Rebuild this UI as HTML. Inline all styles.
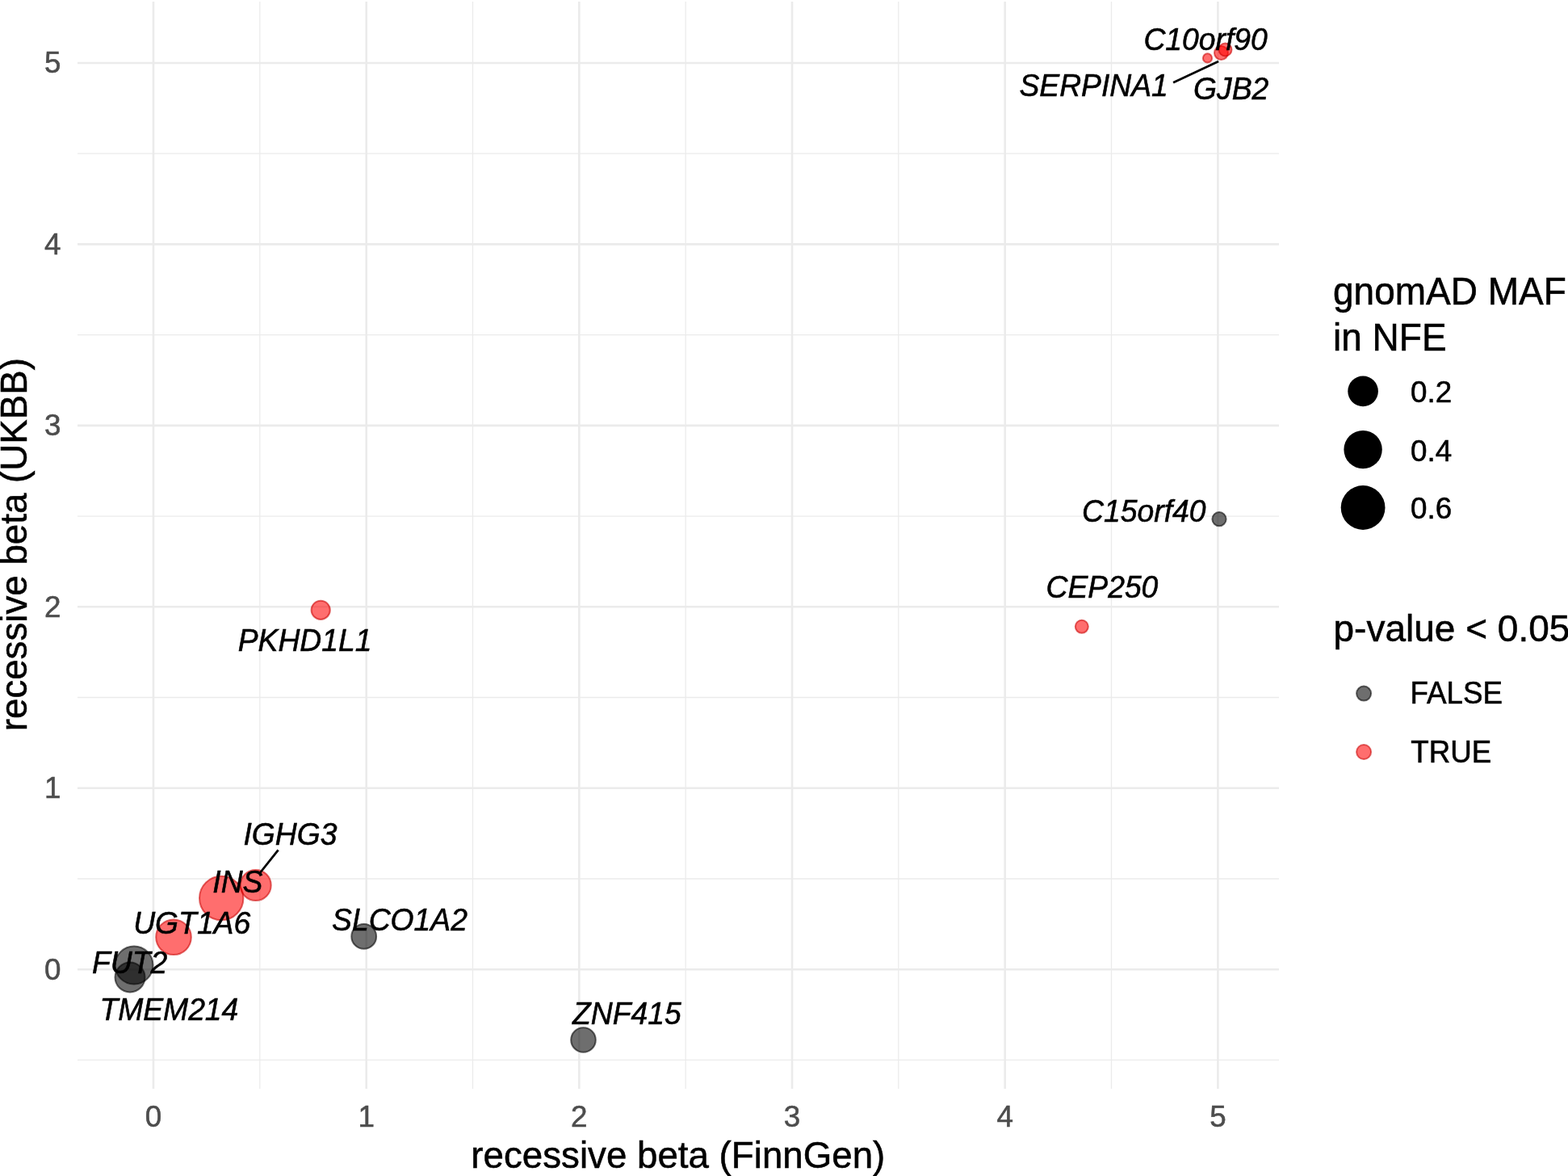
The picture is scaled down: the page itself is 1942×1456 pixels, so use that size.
<!DOCTYPE html>
<html><head><meta charset="utf-8"><title>recessive beta FinnGen vs UKBB</title>
<style>
html,body{margin:0;padding:0;background:#fff;width:1942px;height:1456px;overflow:hidden;}
svg{display:block;}
text{font-family:"Liberation Sans",Arial,Helvetica,sans-serif;}
.lab{font-style:italic;font-size:37.3px;fill:#000;stroke:#000;stroke-width:0.55px;}
.tick{font-size:36.8px;fill:#4D4D4D;stroke:#4D4D4D;stroke-width:0.55px;}
.title{font-size:46px;fill:#000;stroke:#000;stroke-width:0.55px;}
.axt{font-size:45.7px;}
.leg{font-size:36.8px;fill:#000;stroke:#000;stroke-width:0.55px;}
</style></head>
<body>
<svg width="1942" height="1456" viewBox="0 0 1942 1456">
<rect width="1942" height="1456" fill="#fff"/>
<line x1="321.8" y1="2" x2="321.8" y2="1348" stroke="#EBEBEB" stroke-width="1.3"/>
<line x1="585.5" y1="2" x2="585.5" y2="1348" stroke="#EBEBEB" stroke-width="1.3"/>
<line x1="849.2" y1="2" x2="849.2" y2="1348" stroke="#EBEBEB" stroke-width="1.3"/>
<line x1="1112.8" y1="2" x2="1112.8" y2="1348" stroke="#EBEBEB" stroke-width="1.3"/>
<line x1="1376.5" y1="2" x2="1376.5" y2="1348" stroke="#EBEBEB" stroke-width="1.3"/>
<line x1="96" y1="1312.4" x2="1584" y2="1312.4" stroke="#EBEBEB" stroke-width="1.3"/>
<line x1="96" y1="1088.0" x2="1584" y2="1088.0" stroke="#EBEBEB" stroke-width="1.3"/>
<line x1="96" y1="863.5" x2="1584" y2="863.5" stroke="#EBEBEB" stroke-width="1.3"/>
<line x1="96" y1="639.1" x2="1584" y2="639.1" stroke="#EBEBEB" stroke-width="1.3"/>
<line x1="96" y1="414.6" x2="1584" y2="414.6" stroke="#EBEBEB" stroke-width="1.3"/>
<line x1="96" y1="190.2" x2="1584" y2="190.2" stroke="#EBEBEB" stroke-width="1.3"/>
<line x1="190.0" y1="2" x2="190.0" y2="1348" stroke="#EBEBEB" stroke-width="2.6"/>
<line x1="453.7" y1="2" x2="453.7" y2="1348" stroke="#EBEBEB" stroke-width="2.6"/>
<line x1="717.3" y1="2" x2="717.3" y2="1348" stroke="#EBEBEB" stroke-width="2.6"/>
<line x1="981.0" y1="2" x2="981.0" y2="1348" stroke="#EBEBEB" stroke-width="2.6"/>
<line x1="1244.7" y1="2" x2="1244.7" y2="1348" stroke="#EBEBEB" stroke-width="2.6"/>
<line x1="1508.4" y1="2" x2="1508.4" y2="1348" stroke="#EBEBEB" stroke-width="2.6"/>
<line x1="96" y1="1200.2" x2="1584" y2="1200.2" stroke="#EBEBEB" stroke-width="2.6"/>
<line x1="96" y1="975.8" x2="1584" y2="975.8" stroke="#EBEBEB" stroke-width="2.6"/>
<line x1="96" y1="751.3" x2="1584" y2="751.3" stroke="#EBEBEB" stroke-width="2.6"/>
<line x1="96" y1="526.9" x2="1584" y2="526.9" stroke="#EBEBEB" stroke-width="2.6"/>
<line x1="96" y1="302.4" x2="1584" y2="302.4" stroke="#EBEBEB" stroke-width="2.6"/>
<line x1="96" y1="78.0" x2="1584" y2="78.0" stroke="#EBEBEB" stroke-width="2.6"/>
<circle cx="722.5" cy="1287.5" r="15.30" fill="#000000" fill-opacity="0.57" stroke="#000000" stroke-opacity="0.57" stroke-width="2.0"/>
<circle cx="450.7" cy="1159.4" r="15.40" fill="#000000" fill-opacity="0.57" stroke="#000000" stroke-opacity="0.57" stroke-width="2.0"/>
<circle cx="166.0" cy="1195.0" r="23.50" fill="#000000" fill-opacity="0.57" stroke="#000000" stroke-opacity="0.57" stroke-width="2.0"/>
<circle cx="161.0" cy="1210.0" r="18.50" fill="#000000" fill-opacity="0.57" stroke="#000000" stroke-opacity="0.57" stroke-width="2.0"/>
<circle cx="215.0" cy="1160.3" r="21.80" fill="#FF0000" fill-opacity="0.57" stroke="#C80000" stroke-opacity="0.57" stroke-width="2.0"/>
<circle cx="274.2" cy="1112.0" r="27.20" fill="#FF0000" fill-opacity="0.57" stroke="#C80000" stroke-opacity="0.57" stroke-width="2.0"/>
<circle cx="316.7" cy="1096.0" r="19.00" fill="#FF0000" fill-opacity="0.57" stroke="#C80000" stroke-opacity="0.57" stroke-width="2.0"/>
<circle cx="397.2" cy="755.3" r="11.60" fill="#FF0000" fill-opacity="0.57" stroke="#C80000" stroke-opacity="0.57" stroke-width="2.0"/>
<circle cx="1339.8" cy="775.8" r="8.00" fill="#FF0000" fill-opacity="0.57" stroke="#C80000" stroke-opacity="0.57" stroke-width="2.0"/>
<circle cx="1510.0" cy="642.7" r="8.60" fill="#000000" fill-opacity="0.57" stroke="#000000" stroke-opacity="0.57" stroke-width="2.0"/>
<circle cx="1495.5" cy="71.9" r="5.60" fill="#FF0000" fill-opacity="0.57" stroke="#C80000" stroke-opacity="0.57" stroke-width="2.0"/>
<circle cx="1512.5" cy="65.5" r="8.50" fill="#FF0000" fill-opacity="0.57" stroke="#C80000" stroke-opacity="0.57" stroke-width="2.0"/>
<circle cx="1517.5" cy="61.5" r="8.00" fill="#FF0000" fill-opacity="0.57" stroke="#C80000" stroke-opacity="0.57" stroke-width="2.0"/>
<line x1="1453.1" y1="102.3" x2="1509.1" y2="76.0" stroke="#000" stroke-width="2.8"/>
<line x1="344.6" y1="1052.4" x2="321.0" y2="1082.0" stroke="#000" stroke-width="2.8"/>
<text transform="translate(1416.4,62.0) scale(1,1.045)" class="lab">C10orf90</text>
<text transform="translate(1262.4,118.9) scale(1,1.045)" class="lab">SERPINA1</text>
<text transform="translate(1478.0,123.3) scale(1,1.045)" class="lab">GJB2</text>
<text transform="translate(1340.1,646.0) scale(1,1.045)" class="lab">C15orf40</text>
<text transform="translate(1295.5,740.1) scale(1,1.045)" class="lab">CEP250</text>
<text transform="translate(294.7,806.0) scale(1,1.045)" class="lab">PKHD1L1</text>
<text transform="translate(301.5,1046.0) scale(1,1.045)" class="lab">IGHG3</text>
<text transform="translate(263.3,1104.7) scale(1,1.045)" class="lab">INS</text>
<text transform="translate(165.2,1155.6) scale(1,1.045)" class="lab">UGT1A6</text>
<text transform="translate(411.1,1152.2) scale(1,1.045)" class="lab">SLCO1A2</text>
<text transform="translate(114.1,1204.5) scale(1,1.045)" class="lab">FUT2</text>
<text transform="translate(123.4,1263.2) scale(1,1.045)" class="lab">TMEM214</text>
<text transform="translate(709.0,1267.5) scale(1,1.045)" class="lab">ZNF415</text>
<text transform="translate(190.0,1394.5) scale(1,1.02)" class="tick" text-anchor="middle">0</text>
<text transform="translate(453.7,1394.5) scale(1,1.02)" class="tick" text-anchor="middle">1</text>
<text transform="translate(717.3,1394.5) scale(1,1.02)" class="tick" text-anchor="middle">2</text>
<text transform="translate(981.0,1394.5) scale(1,1.02)" class="tick" text-anchor="middle">3</text>
<text transform="translate(1244.7,1394.5) scale(1,1.02)" class="tick" text-anchor="middle">4</text>
<text transform="translate(1508.4,1394.5) scale(1,1.02)" class="tick" text-anchor="middle">5</text>
<text transform="translate(75.4,1212.5) scale(1,1.02)" class="tick" text-anchor="end">0</text>
<text transform="translate(75.4,988.0) scale(1,1.02)" class="tick" text-anchor="end">1</text>
<text transform="translate(75.4,763.6) scale(1,1.02)" class="tick" text-anchor="end">2</text>
<text transform="translate(75.4,539.2) scale(1,1.02)" class="tick" text-anchor="end">3</text>
<text transform="translate(75.4,314.7) scale(1,1.02)" class="tick" text-anchor="end">4</text>
<text transform="translate(75.4,90.3) scale(1,1.02)" class="tick" text-anchor="end">5</text>
<text transform="translate(839.8,1446.0) scale(1,1.0)" class="title axt" text-anchor="middle">recessive beta (FinnGen)</text>
<text transform="translate(33.4,674.2) rotate(-90) scale(1,1.0)" class="title axt" text-anchor="middle">recessive beta (UKBB)</text>
<text transform="translate(1651.0,376.9) scale(1,1.03)" class="title">gnomAD MAF</text>
<text transform="translate(1651.0,434.2) scale(1,1.03)" class="title">in NFE</text>
<circle cx="1688.1" cy="484.4" r="18.8" fill="#000"/>
<text transform="translate(1747.0,498.1) scale(1,1.01)" class="leg">0.2</text>
<circle cx="1688.1" cy="556.6" r="23.7" fill="#000"/>
<text transform="translate(1747.0,570.8) scale(1,1.01)" class="leg">0.4</text>
<circle cx="1688.1" cy="628.5" r="27.4" fill="#000"/>
<text transform="translate(1747.0,642.0) scale(1,1.01)" class="leg">0.6</text>
<text transform="translate(1651.5,793.8) scale(1,1.0)" class="title">p-value &lt; 0.05</text>
<circle cx="1689.1" cy="858.6" r="9.00" fill="#000000" fill-opacity="0.57" stroke="#000000" stroke-opacity="0.57" stroke-width="2.0"/>
<circle cx="1689.1" cy="931.0" r="9.00" fill="#FF0000" fill-opacity="0.57" stroke="#C80000" stroke-opacity="0.57" stroke-width="2.0"/>
<text transform="translate(1746.5,871.4) scale(1,1.045)" class="leg">FALSE</text>
<text transform="translate(1747.2,943.7) scale(1,1.045)" class="leg">TRUE</text>
</svg>
</body></html>
